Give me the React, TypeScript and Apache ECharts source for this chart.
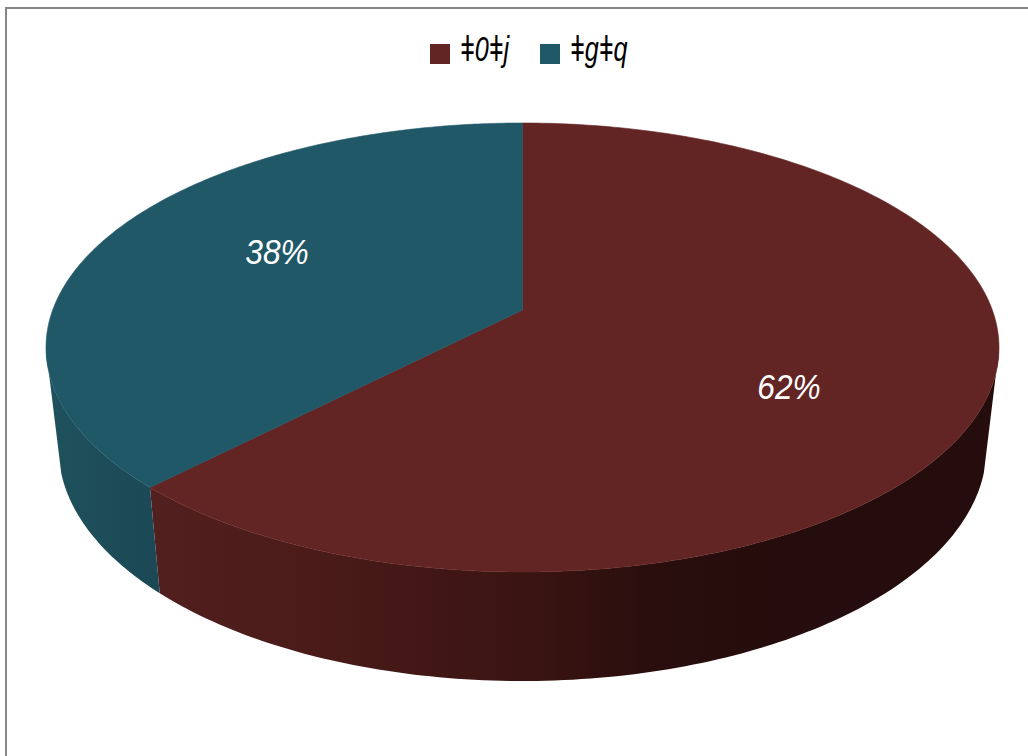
import React, { useEffect, useRef } from "react";
import * as echarts from "echarts";

const categories = ["ǂ0ǂj", "ǂgǂq"];
const shares = [62.3, 37.7];
const topColors = ["#632523", "#215868"];
const frameColor = "#868686";
const font = "Liberation Sans";

const W = 1028, H = 756;
const top = { cx: 522.5, cy: 347.5, rx: 476.5, ry: 224.5 };
const bot = { cx: 522.5, cy: 448, rx: 464, ry: 233 };
const tilt = 0.167;
const total = shares.reduce((a, b) => a + b, 0);

// perspective: true pie angle (clockwise from 12 o'clock) -> unit-disc point
function proj(theta: number) {
  const x = Math.sin(theta), y = Math.cos(theta);
  const d = 1 + tilt * y;
  return { x: (x * Math.sqrt(1 - tilt * tilt)) / d, y: (y + tilt) / d };
}
const onE = (e: typeof top, p: { x: number; y: number }) => [e.cx + e.rx * p.x, e.cy - e.ry * p.y];

// wall shading, left to right across each slice's wall
const wallShades = [
  {
    x0: 150,
    x1: 1000,
    stops: [
      [0, "#52201e"],
      [0.224, "#481a18"],
      [0.447, "#3a1412"],
      [0.588, "#290e0d"],
      [0.765, "#240d0c"],
      [1, "#240d0c"],
    ],
  },
  {
    x0: 46,
    x1: 160,
    stops: [
      [0, "#1f525e"],
      [1, "#1b4854"],
    ],
  },
];

function sliceRender(index: number) {
  return (params: any, api: any) => {
    const start = (shares.slice(0, index).reduce((a, b) => a + b, 0) / total) * Math.PI * 2;
    const end = start + (api.value(0) / total) * Math.PI * 2;
    const n = 240;
    const face: number[][] = [onE(top, { x: 0, y: tilt })];
    const wallTop: number[][] = [];
    const wallBot: number[][] = [];
    for (let i = 0; i <= n; i++) {
      const p = proj(start + ((end - start) * i) / n);
      face.push(onE(top, p));
      if (p.y <= 0) wallTop.push(onE(top, p));
      if (p.y <= -0.1) wallBot.push(onE(bot, p));
    }
    const s = wallShades[index];
    const gradient = new echarts.graphic.LinearGradient(
      s.x0, 0, s.x1, 0,
      s.stops.map(([offset, color]) => ({ offset, color })),
      true
    );
    const fill = topColors[index];
    return {
      type: "group",
      children: [
        {
          type: "polygon",
          shape: { points: [...wallTop, ...wallBot.reverse()] },
          style: { fill: gradient },
        },
        {
          type: "polygon",
          shape: { points: face },
          style: { fill, stroke: fill, lineWidth: 0.6 },
          z2: 10,
        },
        {
          type: "text",
          x: index === 0 ? 789 : 277,
          y: index === 0 ? 386 : 251,
          scaleX: 0.88,
          z2: 20,
          style: {
            text: Math.round(api.value(0)) + "%",
            fill: "#ffffff",
            fontFamily: font,
            fontStyle: "italic",
            fontSize: 36,
            align: "center",
            verticalAlign: "middle",
          },
        },
      ],
    };
  };
}

const legendX = [430, 540];

export default function App() {
  const ref = useRef<HTMLDivElement>(null);
  useEffect(() => {
    const chart = echarts.init(ref.current!, undefined, { renderer: "svg" });
    chart.setOption({
      animation: false,
      backgroundColor: "#ffffff",
      graphic: [
        {
          type: "polyline",
          shape: { points: [[6, H + 5], [6, 8], [W + 5, 8]] },
          style: { stroke: frameColor, lineWidth: 2, fill: "none" },
          silent: true,
        },
        ...categories.flatMap((name, i) => [
          {
            type: "rect",
            shape: { x: legendX[i], y: 44, width: 20, height: 20 },
            style: { fill: topColors[i] },
          },
          {
            type: "text",
            x: legendX[i] + 30,
            y: 49,
            scaleX: 0.7,
            style: {
              text: name,
              fill: "#000000",
              fontFamily: font,
              fontStyle: "italic",
              fontSize: 36,
              align: "left",
              verticalAlign: "middle",
            },
          },
        ]),
      ],
      series: categories.map((name, i) => ({
        type: "custom",
        name,
        coordinateSystem: "none",
        renderItem: sliceRender(i),
        data: [[shares[i]]],
        itemStyle: { color: topColors[i] },
        z: i === 0 ? 2 : 3,
      })),
    });
    return () => chart.dispose();
  }, []);
  return (
    <div
      ref={ref}
      style={{ position: "fixed", left: 0, top: 0, width: W, height: H, overflow: "hidden" }}
    />
  );
}
